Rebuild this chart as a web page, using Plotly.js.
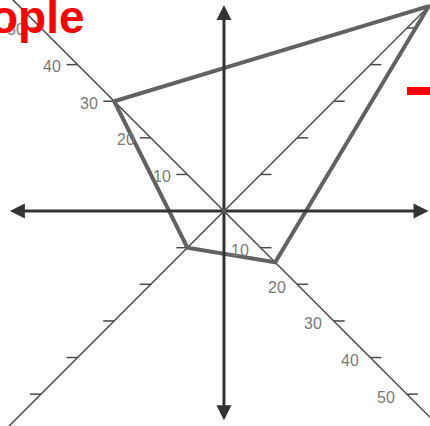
<!DOCTYPE html>
<html>
<head>
<meta charset="utf-8">
<script src="https://cdn.plot.ly/plotly-3.0.1.min.js"></script>
<style>html,body{margin:0;padding:0;background:#fff;}#chart{width:430px;height:426px;}</style>
</head>
<body>
<div id="chart"></div>
<script>
// ---- data ----
const axisNames = ['NE', 'NW', 'SW', 'SE'];
const axisDirX = [1, -1, -1, 1];
const axisDirY = [1, 1, -1, -1];
const polygonValues = [56, 30, 10, 14];
const tickValues = [10, 20, 30, 40, 50];
const nwTickLabels = ['10', '20', '30', '40', '50'];
const seTickLabels = ['10', '20', '30', '40', '50'];
const titleText = 'ople';

// ---- geometry helpers ----
const traces = [];
const diagColor = '#4a4a4a';
const reach = 75;
// two diagonal axes (NE-SW and NW-SE)
[[0, 2], [1, 3]].forEach(pair => {
  traces.push({
    x: [axisDirX[pair[0]] * reach, axisDirX[pair[1]] * reach],
    y: [axisDirY[pair[0]] * reach, axisDirY[pair[1]] * reach],
    mode: 'lines', line: {color: diagColor, width: 1.5}, hoverinfo: 'skip'
  });
});
// tick dashes on the diagonals
const dashLen = 3;
axisNames.forEach((name, i) => {
  const side = axisDirX[i]; // right side for east axes, left for west axes
  const xs = [], ys = [];
  tickValues.forEach(v => {
    const px = axisDirX[i] * v, py = axisDirY[i] * v;
    xs.push(px, px + side * dashLen, null);
    ys.push(py, py, null);
  });
  traces.push({x: xs, y: ys, mode: 'lines', line: {color: diagColor, width: 1.5}, hoverinfo: 'skip'});
});
// polygon
const polyX = polygonValues.map((v, i) => axisDirX[i] * v);
const polyY = polygonValues.map((v, i) => axisDirY[i] * v);
polyX.push(polyX[0]); polyY.push(polyY[0]);
traces.push({x: polyX, y: polyY, mode: 'lines', line: {color: '#626262', width: 4}, hoverinfo: 'skip'});

// ---- annotations ----
const annotations = [];
const axisColor = '#333333';
const arrowTips = [[-58.5, 0], [55.9, 0], [0, 56.3], [0, -57.1]];
arrowTips.forEach(t => {
  annotations.push({x: t[0], y: t[1], ax: 0, ay: 0, axref: 'x', ayref: 'y', xref: 'x', yref: 'y',
    text: '', showarrow: true, arrowhead: 2, arrowsize: 1, arrowwidth: 3, arrowcolor: axisColor});
});
const labelFont = {family: 'Liberation Sans, Arial, sans-serif', size: 16, color: '#7a7a7a'};
tickValues.forEach((v, k) => {
  // NW axis (index 1)
  annotations.push({x: axisDirX[1] * v - 6.9, y: axisDirY[1] * v - 0.5, xref: 'x', yref: 'y',
    text: nwTickLabels[k], showarrow: false, font: labelFont, xanchor: 'center', yanchor: 'middle'});
  // SE axis (index 3)
  annotations.push({x: axisDirX[3] * v - 5.6, y: axisDirY[3] * v - 0.8, xref: 'x', yref: 'y',
    text: seTickLabels[k], showarrow: false, font: labelFont, xanchor: 'center', yanchor: 'middle'});
});
annotations.push({x: 0, y: 1, xref: 'paper', yref: 'paper', xanchor: 'left', yanchor: 'top',
  xshift: -12, yshift: 11, text: '<b>' + titleText + '</b>', showarrow: false,
  font: {family: 'Liberation Sans, Arial, sans-serif', size: 46, color: '#ff0000'}});

const layout = {
  width: 430, height: 426,
  margin: {l: 0, r: 0, t: 0, b: 0},
  paper_bgcolor: '#ffffff', plot_bgcolor: '#ffffff',
  showlegend: false,
  xaxis: {range: [-61.2, 56.3], visible: false, fixedrange: true},
  yaxis: {range: [-58.7, 57.65], visible: false, fixedrange: true},
  annotations: annotations,
  shapes: [{type: 'rect', xref: 'paper', yref: 'paper', x0: 407 / 430, x1: 1.01,
    y0: 1 - 95 / 426, y1: 1 - 87 / 426, fillcolor: '#ff0000', line: {width: 0}}]
};
Plotly.newPlot('chart', traces, layout, {staticPlot: true, displayModeBar: false});
</script>
</body>
</html>
